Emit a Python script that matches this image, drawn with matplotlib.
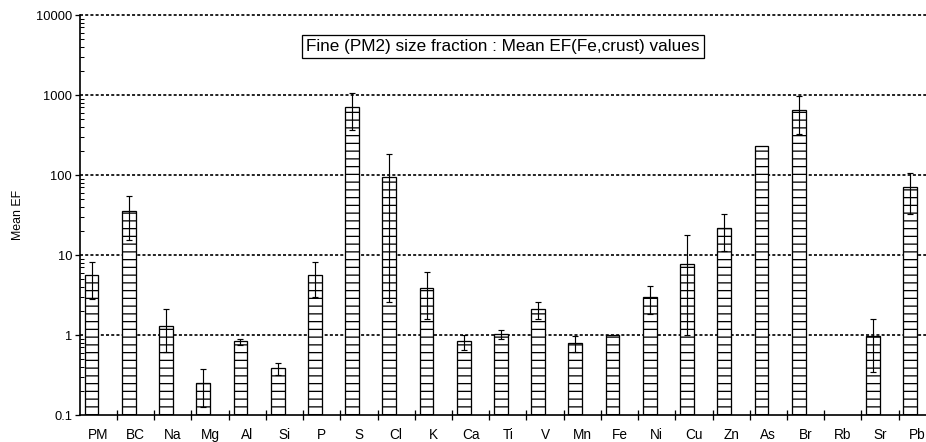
import numpy as np
import matplotlib
matplotlib.use("Agg")
import matplotlib.pyplot as plt
from matplotlib.ticker import LogLocator, FixedLocator, NullFormatter, FixedFormatter

categories = ["PM", "BC", "Na", "Mg", "Al", "Si", "P", "S", "Cl", "K", "Ca", "Ti",
              "V", "Mn", "Fe", "Ni", "Cu", "Zn", "As", "Br", "Rb", "Sr", "Pb"]
mean_ef = [5.6, 35.5, 1.31, 0.25, 0.83, 0.383, 5.62, 702, 93.6, 3.87, 0.834, 1.03,
           2.09, 0.787, 1.0, 2.96, 7.8, 21.9, 228, 643, np.nan, 0.97, 70.2]
err_minus = [2.8, 20.0, 0.69, 0.123, 0.09, 0.064, 2.66, 337, 91.0, 2.29, 0.19, 0.13,
             0.49, 0.18, 0.0, 1.13, 6.8, 10.6, 0.0, 314, np.nan, 0.63, 38.0]
err_plus = [2.6, 19.5, 0.8, 0.123, 0.07, 0.06, 2.63, 357, 91.4, 2.33, 0.18, 0.14,
            0.47, 0.19, 0.0, 1.18, 9.8, 10.9, 0.0, 329, np.nan, 0.63, 36.8]
ytick_labels = ["0.1", "1", "10", "100", "1000", "10000"]
title_text = "Fine (PM2) size fraction : Mean EF(Fe,crust) values"

plt.rcParams['font.family'] = ['Liberation Sans', 'DejaVu Sans']
plt.rcParams['hatch.linewidth'] = 1.0
plt.rcParams['hatch.color'] = 'black'

DPI = 93
W, H = 927, 442
fig = plt.figure(figsize=(W / DPI, H / DPI), dpi=DPI)
ax_left, ax_bottom_px, ax_top_px = 79.8, 415.0, 15.0
cat_w = 37.22
n = len(categories)
ax = fig.add_axes([ax_left / W, 1 - ax_bottom_px / H, n * cat_w / W,
                   (ax_bottom_px - ax_top_px) / H])

x = np.arange(n)
bw = 0.37
off = -0.185
vals = np.array(mean_ef, dtype=float)
ax.bar(x + off, np.nan_to_num(vals, nan=0.0), width=bw, bottom=0, color='white',
       edgecolor='black', linewidth=1.0, hatch='--', zorder=3)

for i in range(n):
    if np.isnan(vals[i]) or (err_minus[i] == 0 and err_plus[i] == 0):
        continue
    ax.errorbar(x[i] + off, vals[i], yerr=[[err_minus[i]], [err_plus[i]]],
                fmt='none', ecolor='black', elinewidth=0.9, capsize=2.4,
                capthick=0.9, zorder=4)

ax.set_yscale('log')
ax.set_ylim(0.1, 10000)
ax.set_xlim(-0.5, n - 0.5)

ax.yaxis.set_major_locator(FixedLocator([0.1, 1, 10, 100, 1000, 10000]))
ax.yaxis.set_major_formatter(FixedFormatter(ytick_labels))
ax.yaxis.set_minor_locator(LogLocator(base=10, subs=np.arange(2, 10), numticks=20))
ax.yaxis.set_minor_formatter(NullFormatter())
ax.tick_params(axis='y', which='major', direction='out', length=4, width=1.0,
               labelsize=10, pad=2)
ax.tick_params(axis='y', which='minor', direction='in', length=3, width=0.8)

ax.set_xticks(np.arange(0.5, n - 0.5, 1.0))
ax.set_xticklabels([])
ax.set_xticks(x, minor=True)
ax.set_xticklabels(categories, minor=True)
ax.tick_params(axis='x', which='major', direction='inout', length=7, width=1.0)
ax.tick_params(axis='x', which='minor', length=0, labelsize=10.5, pad=10)

for yv in [1, 10, 100, 1000, 10000]:
    ax.axhline(yv, color='black', linewidth=1.3, linestyle=(0, (1.8, 1.3)), zorder=1,
               clip_on=False)

for s in ['top', 'right']:
    ax.spines[s].set_visible(False)
ax.spines['left'].set_linewidth(1.3)
ax.spines['bottom'].set_linewidth(1.3)

ax.set_ylabel("Mean EF", fontsize=9.6, labelpad=9)

fig.text(503 / W, 1 - 46.5 / H, title_text, ha='center', va='center', fontsize=13.3,
         bbox=dict(boxstyle='square,pad=0.25', facecolor='white', edgecolor='black',
                   linewidth=1.0))

fig.savefig("out.png", dpi=DPI)
